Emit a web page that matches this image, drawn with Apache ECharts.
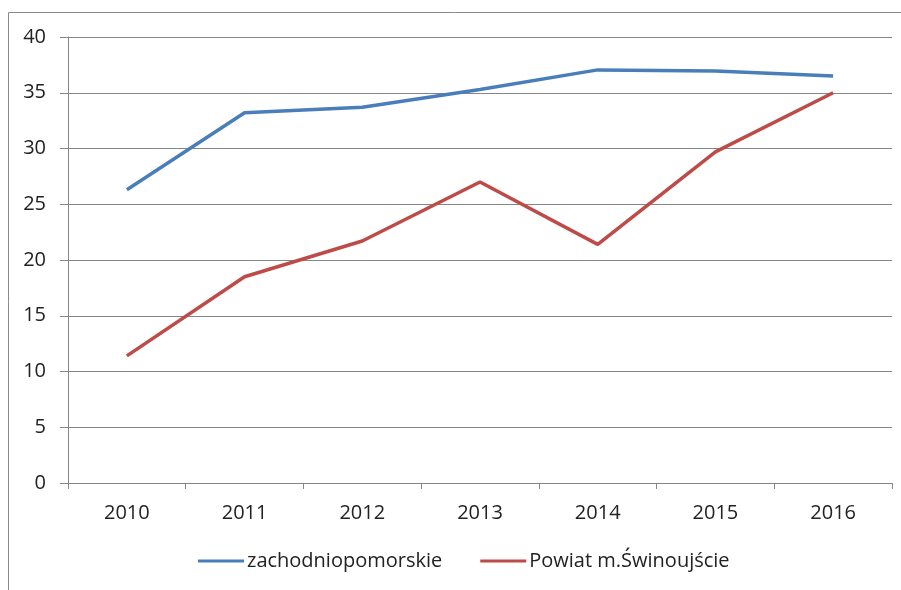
<!DOCTYPE html>
<html><head><meta charset="utf-8">
<script src="https://cdn.jsdelivr.net/npm/echarts@6/dist/echarts.min.js"></script>
<style>html,body{margin:0;padding:0;background:#fff}#c{width:901px;height:590px}</style>
</head><body><div id="c"></div>
<script>
const categories = ['2010','2011','2012','2013','2014','2015','2016'];
const zachodniopomorskie = [26.3, 33.2, 33.7, 35.3, 37.05, 36.95, 36.5];
const swinoujscie = [11.4, 18.5, 21.7, 27.0, 21.4, 29.7, 35.0];
const seriesNames = ['zachodniopomorskie', 'Powiat m.Świnoujście'];
const yTicks = {min: 0, max: 40, interval: 5};

const chart = echarts.init(document.getElementById('c'));
const font = 'Open Sans, Liberation Sans, sans-serif';
chart.setOption({
  animation: false,
  graphic: [{type:'rect', shape:{x:8.5, y:12.5, width:1000, height:1000}, style:{fill:'none', stroke:'#8a8a8a', lineWidth:1}}],
  grid: {left: 68, right: 9, top: 37, bottom: 107, containLabel: false},
  legend: {
    left: 193, top: 546, itemWidth: 46, itemHeight: 3, itemGap: 38,
    icon: 'rect',
    textStyle: {fontFamily: font, fontSize: 20, color: '#222', padding:[0,0,0,-2]},
    data: seriesNames
  },
  xAxis: {
    type: 'category', data: categories, boundaryGap: true,
    axisLine: {lineStyle: {color: '#868686', width: 1}},
    axisTick: {show: true, length: 6, lineStyle: {color: '#868686'}},
    axisLabel: {fontFamily: font, fontSize: 20, color: '#222', margin: 20},
    splitLine: {show: false}
  },
  yAxis: {
    type: 'value', min: yTicks.min, max: yTicks.max, interval: yTicks.interval,
    axisLine: {show: true, lineStyle: {color: '#868686', width: 1}},
    axisTick: {show: true, length: 8, lineStyle: {color: '#868686'}},
    axisLabel: {fontFamily: font, fontSize: 20, color: '#222', margin: 22},
    splitLine: {lineStyle: {color: '#868686', width: 1}}
  },
  series: [
    {name: seriesNames[0], type: 'line', data: zachodniopomorskie, symbol: 'none', lineStyle: {color: '#4A7EBB', width: 3.5}, itemStyle: {color: '#4A7EBB'}},
    {name: seriesNames[1], type: 'line', data: swinoujscie, symbol: 'none', lineStyle: {color: '#BE4B48', width: 3.5}, itemStyle: {color: '#BE4B48'}}
  ]
});
</script></body></html>
